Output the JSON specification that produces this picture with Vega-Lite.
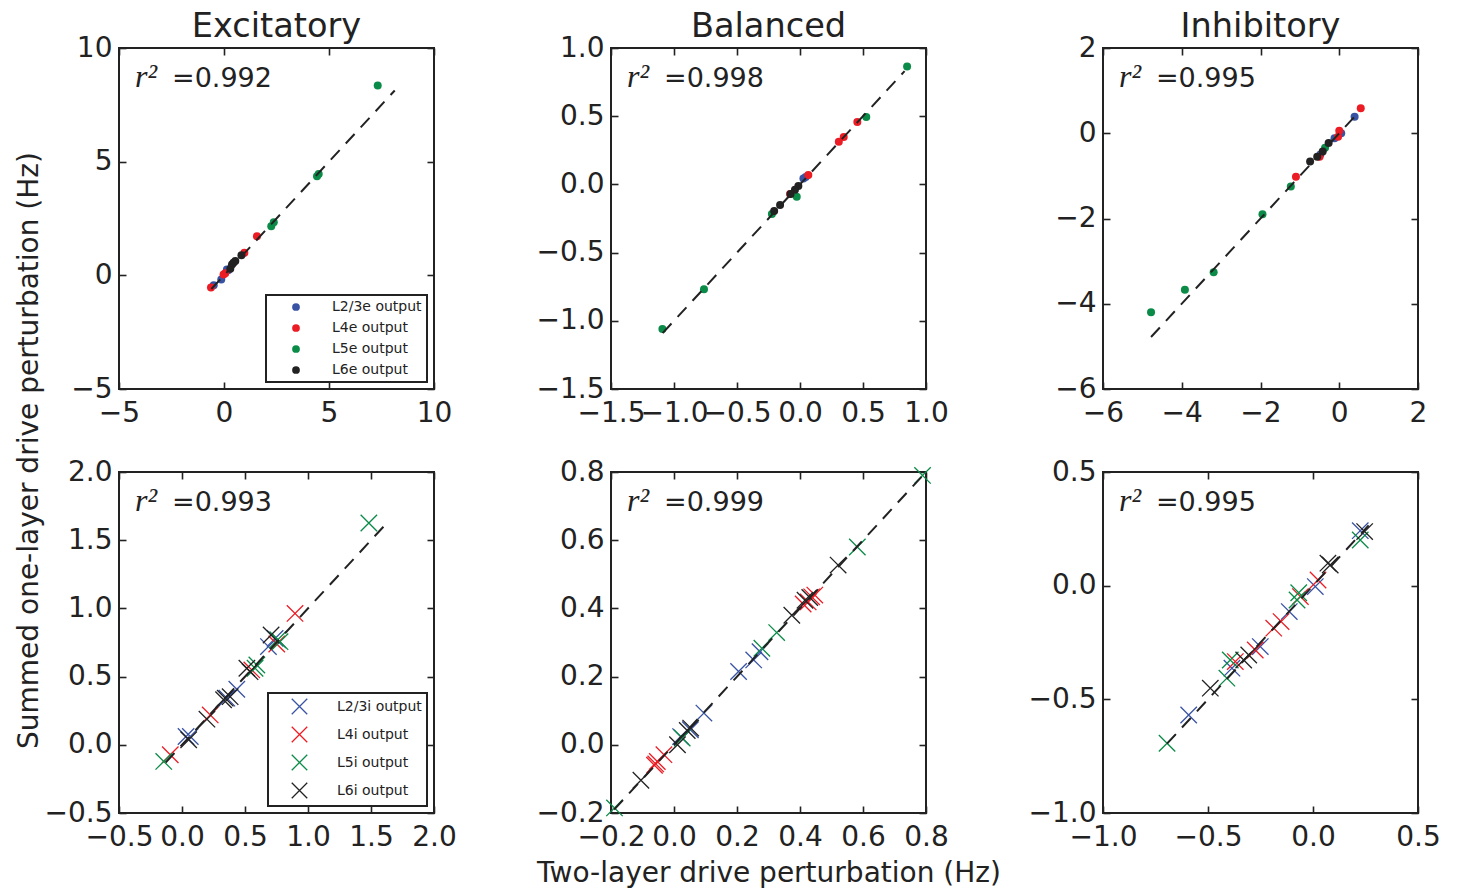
{
  "$schema": "https://vega.github.io/schema/vega-lite/v6.json",
  "background": "white",
  "padding": {"left": 13, "top": 9, "right": 5, "bottom": 2},
  "config": {
    "font": "DejaVu Sans",
    "view": {"stroke": "#222", "strokeWidth": 2},
    "axis": {"grid": false, "domain": false, "tickSize": -7, "tickWidth": 1.6, "tickColor": "#222", "labelFontSize": 28, "labelColor": "#222", "labelPadding": 14, "labelFlush": false, "labelOverlap": false, "titleFontSize": 28, "titleFontWeight": "normal", "titleColor": "#222"},
    "axisX": {"labelPadding": 17},
    "title": {"fontSize": 33.6, "fontWeight": "normal", "color": "#222", "frame": "group", "offset": -10},
    "legend": {"title": null, "orient": "bottom-right", "offset": 7, "strokeColor": "#222", "strokeWidth": 2, "fillColor": "white", "padding": 5, "labelFontSize": 14, "labelColor": "#222", "symbolOffset": 18, "labelOffset": 29, "rowPadding": 7}
  },
  "datasets": {
    "pts": [
      {"panel": "E1", "pop": "L2/3e output", "x": 0.14, "y": 0.26},
      {"panel": "E1", "pop": "L2/3e output", "x": 0.2, "y": 0.22},
      {"panel": "E1", "pop": "L2/3e output", "x": -0.13, "y": -0.18},
      {"panel": "E1", "pop": "L2/3e output", "x": -0.49, "y": -0.44},
      {"panel": "E1", "pop": "L4e output", "x": 1.57, "y": 1.72},
      {"panel": "E1", "pop": "L4e output", "x": 0.97, "y": 0.99},
      {"panel": "E1", "pop": "L4e output", "x": 0.06, "y": 0.09},
      {"panel": "E1", "pop": "L4e output", "x": -0.02, "y": 0.04},
      {"panel": "E1", "pop": "L4e output", "x": -0.62, "y": -0.54},
      {"panel": "E1", "pop": "L5e output", "x": 7.32, "y": 8.35},
      {"panel": "E1", "pop": "L5e output", "x": 4.51, "y": 4.46},
      {"panel": "E1", "pop": "L5e output", "x": 4.43, "y": 4.36},
      {"panel": "E1", "pop": "L5e output", "x": 2.37, "y": 2.34},
      {"panel": "E1", "pop": "L5e output", "x": 2.25, "y": 2.16},
      {"panel": "E1", "pop": "L6e output", "x": 0.83, "y": 0.88},
      {"panel": "E1", "pop": "L6e output", "x": 0.54, "y": 0.63},
      {"panel": "E1", "pop": "L6e output", "x": 0.45, "y": 0.55},
      {"panel": "E1", "pop": "L6e output", "x": 0.38, "y": 0.48},
      {"panel": "E1", "pop": "L6e output", "x": 0.3, "y": 0.29},

      {"panel": "B1", "pop": "L2/3e output", "x": 0.027, "y": 0.044},
      {"panel": "B1", "pop": "L2/3e output", "x": 0.045, "y": 0.055},
      {"panel": "B1", "pop": "L4e output", "x": 0.455, "y": 0.458},
      {"panel": "B1", "pop": "L4e output", "x": 0.347, "y": 0.348},
      {"panel": "B1", "pop": "L4e output", "x": 0.308, "y": 0.312},
      {"panel": "B1", "pop": "L4e output", "x": 0.066, "y": 0.068},
      {"panel": "B1", "pop": "L4e output", "x": -0.079, "y": -0.071},
      {"panel": "B1", "pop": "L5e output", "x": 0.85, "y": 0.865},
      {"panel": "B1", "pop": "L5e output", "x": 0.526, "y": 0.495},
      {"panel": "B1", "pop": "L5e output", "x": -0.026, "y": -0.09},
      {"panel": "B1", "pop": "L5e output", "x": -0.223, "y": -0.217},
      {"panel": "B1", "pop": "L5e output", "x": -0.762, "y": -0.768},
      {"panel": "B1", "pop": "L5e output", "x": -1.092, "y": -1.061},
      {"panel": "B1", "pop": "L6e output", "x": -0.013, "y": -0.012},
      {"panel": "B1", "pop": "L6e output", "x": -0.04, "y": -0.04},
      {"panel": "B1", "pop": "L6e output", "x": -0.075, "y": -0.07},
      {"panel": "B1", "pop": "L6e output", "x": -0.158, "y": -0.151},
      {"panel": "B1", "pop": "L6e output", "x": -0.205, "y": -0.195},

      {"panel": "I1", "pop": "L2/3e output", "x": 0.39, "y": 0.39},
      {"panel": "I1", "pop": "L2/3e output", "x": 0.05, "y": 0.0},
      {"panel": "I1", "pop": "L2/3e output", "x": -0.12, "y": -0.12},
      {"panel": "I1", "pop": "L2/3e output", "x": -0.48, "y": -0.5},
      {"panel": "I1", "pop": "L4e output", "x": 0.546, "y": 0.585},
      {"panel": "I1", "pop": "L4e output", "x": 0.0, "y": 0.06},
      {"panel": "I1", "pop": "L4e output", "x": -0.03, "y": -0.08},
      {"panel": "I1", "pop": "L4e output", "x": -0.5, "y": -0.55},
      {"panel": "I1", "pop": "L4e output", "x": -1.1, "y": -1.02},
      {"panel": "I1", "pop": "L5e output", "x": -0.36, "y": -0.34},
      {"panel": "I1", "pop": "L5e output", "x": -1.23, "y": -1.25},
      {"panel": "I1", "pop": "L5e output", "x": -1.95, "y": -1.9},
      {"panel": "I1", "pop": "L5e output", "x": -3.19, "y": -3.26},
      {"panel": "I1", "pop": "L5e output", "x": -3.92, "y": -3.67},
      {"panel": "I1", "pop": "L5e output", "x": -4.78, "y": -4.2},
      {"panel": "I1", "pop": "L6e output", "x": -0.27, "y": -0.23},
      {"panel": "I1", "pop": "L6e output", "x": -0.42, "y": -0.43},
      {"panel": "I1", "pop": "L6e output", "x": -0.56, "y": -0.55},
      {"panel": "I1", "pop": "L6e output", "x": -0.74, "y": -0.66},

      {"panel": "E2", "pop": "L2/3i output", "x": 0.739, "y": 0.78},
      {"panel": "E2", "pop": "L2/3i output", "x": 0.686, "y": 0.72},
      {"panel": "E2", "pop": "L2/3i output", "x": 0.435, "y": 0.407},
      {"panel": "E2", "pop": "L2/3i output", "x": 0.356, "y": 0.342},
      {"panel": "E2", "pop": "L2/3i output", "x": 0.032, "y": 0.061},
      {"panel": "E2", "pop": "L2/3i output", "x": 0.066, "y": 0.061},
      {"panel": "E2", "pop": "L4i output", "x": 0.897, "y": 0.963},
      {"panel": "E2", "pop": "L4i output", "x": 0.752, "y": 0.739},
      {"panel": "E2", "pop": "L4i output", "x": 0.554, "y": 0.549},
      {"panel": "E2", "pop": "L4i output", "x": 0.224, "y": 0.219},
      {"panel": "E2", "pop": "L4i output", "x": -0.093, "y": -0.073},
      {"panel": "E2", "pop": "L5i output", "x": 1.483, "y": 1.626},
      {"panel": "E2", "pop": "L5i output", "x": 0.778, "y": 0.756},
      {"panel": "E2", "pop": "L5i output", "x": 0.76, "y": 0.77},
      {"panel": "E2", "pop": "L5i output", "x": 0.594, "y": 0.585},
      {"panel": "E2", "pop": "L5i output", "x": 0.58, "y": 0.561},
      {"panel": "E2", "pop": "L5i output", "x": -0.145, "y": -0.122},
      {"panel": "E2", "pop": "L6i output", "x": 0.707, "y": 0.805},
      {"panel": "E2", "pop": "L6i output", "x": 0.515, "y": 0.561},
      {"panel": "E2", "pop": "L6i output", "x": 0.54, "y": 0.536},
      {"panel": "E2", "pop": "L6i output", "x": 0.382, "y": 0.353},
      {"panel": "E2", "pop": "L6i output", "x": 0.343, "y": 0.342},
      {"panel": "E2", "pop": "L6i output", "x": 0.33, "y": 0.33},
      {"panel": "E2", "pop": "L6i output", "x": 0.198, "y": 0.188},
      {"panel": "E2", "pop": "L6i output", "x": 0.053, "y": 0.037},

      {"panel": "B2", "pop": "L2/3i output", "x": 0.021, "y": 0.024},
      {"panel": "B2", "pop": "L2/3i output", "x": 0.052, "y": 0.044},
      {"panel": "B2", "pop": "L2/3i output", "x": 0.095, "y": 0.093},
      {"panel": "B2", "pop": "L2/3i output", "x": 0.205, "y": 0.215},
      {"panel": "B2", "pop": "L2/3i output", "x": 0.253, "y": 0.249},
      {"panel": "B2", "pop": "L2/3i output", "x": 0.273, "y": 0.273},
      {"panel": "B2", "pop": "L4i output", "x": -0.062, "y": -0.06},
      {"panel": "B2", "pop": "L4i output", "x": -0.058, "y": -0.056},
      {"panel": "B2", "pop": "L4i output", "x": -0.053, "y": -0.049},
      {"panel": "B2", "pop": "L4i output", "x": -0.032, "y": -0.029},
      {"panel": "B2", "pop": "L4i output", "x": 0.41, "y": 0.413},
      {"panel": "B2", "pop": "L4i output", "x": 0.426, "y": 0.419},
      {"panel": "B2", "pop": "L4i output", "x": 0.437, "y": 0.434},
      {"panel": "B2", "pop": "L4i output", "x": 0.447, "y": 0.439},
      {"panel": "B2", "pop": "L5i output", "x": -0.189, "y": -0.185},
      {"panel": "B2", "pop": "L5i output", "x": 0.026, "y": 0.02},
      {"panel": "B2", "pop": "L5i output", "x": 0.279, "y": 0.283},
      {"panel": "B2", "pop": "L5i output", "x": 0.326, "y": 0.329},
      {"panel": "B2", "pop": "L5i output", "x": 0.582, "y": 0.58},
      {"panel": "B2", "pop": "L5i output", "x": 0.789, "y": 0.79},
      {"panel": "B2", "pop": "L6i output", "x": -0.105, "y": -0.104},
      {"panel": "B2", "pop": "L6i output", "x": 0.011, "y": 0.0},
      {"panel": "B2", "pop": "L6i output", "x": 0.042, "y": 0.042},
      {"panel": "B2", "pop": "L6i output", "x": 0.053, "y": 0.049},
      {"panel": "B2", "pop": "L6i output", "x": 0.374, "y": 0.38},
      {"panel": "B2", "pop": "L6i output", "x": 0.416, "y": 0.424},
      {"panel": "B2", "pop": "L6i output", "x": 0.431, "y": 0.432},
      {"panel": "B2", "pop": "L6i output", "x": 0.521, "y": 0.527},

      {"panel": "I2", "pop": "L2/3i output", "x": 0.225, "y": 0.242},
      {"panel": "I2", "pop": "L2/3i output", "x": 0.011, "y": -0.004},
      {"panel": "I2", "pop": "L2/3i output", "x": -0.113, "y": -0.114},
      {"panel": "I2", "pop": "L2/3i output", "x": -0.251, "y": -0.268},
      {"panel": "I2", "pop": "L2/3i output", "x": -0.386, "y": -0.363},
      {"panel": "I2", "pop": "L2/3i output", "x": -0.592, "y": -0.569},
      {"panel": "I2", "pop": "L4i output", "x": 0.024, "y": 0.025},
      {"panel": "I2", "pop": "L4i output", "x": -0.06, "y": -0.048},
      {"panel": "I2", "pop": "L4i output", "x": -0.152, "y": -0.158},
      {"panel": "I2", "pop": "L4i output", "x": -0.187, "y": -0.187},
      {"panel": "I2", "pop": "L4i output", "x": -0.275, "y": -0.283},
      {"panel": "I2", "pop": "L4i output", "x": -0.37, "y": -0.334},
      {"panel": "I2", "pop": "L5i output", "x": 0.225, "y": 0.201},
      {"panel": "I2", "pop": "L5i output", "x": -0.068, "y": -0.031},
      {"panel": "I2", "pop": "L5i output", "x": -0.076, "y": -0.063},
      {"panel": "I2", "pop": "L5i output", "x": -0.394, "y": -0.327},
      {"panel": "I2", "pop": "L5i output", "x": -0.41, "y": -0.407},
      {"panel": "I2", "pop": "L5i output", "x": -0.695, "y": -0.693},
      {"panel": "I2", "pop": "L6i output", "x": 0.246, "y": 0.238},
      {"panel": "I2", "pop": "L6i output", "x": 0.071, "y": 0.099},
      {"panel": "I2", "pop": "L6i output", "x": 0.082, "y": 0.091},
      {"panel": "I2", "pop": "L6i output", "x": -0.306, "y": -0.305},
      {"panel": "I2", "pop": "L6i output", "x": -0.33, "y": -0.327},
      {"panel": "I2", "pop": "L6i output", "x": -0.489, "y": -0.451}
    ],
    "lines": [
      {"panel": "E1", "x": -0.6, "y": -0.6}, {"panel": "E1", "x": 8.13, "y": 8.13},
      {"panel": "B1", "x": -1.09, "y": -1.09}, {"panel": "B1", "x": 0.83, "y": 0.83},
      {"panel": "I1", "x": -4.78, "y": -4.78}, {"panel": "I1", "x": 0.4, "y": 0.4},
      {"panel": "E2", "x": -0.13, "y": -0.13}, {"panel": "E2", "x": 1.62, "y": 1.62},
      {"panel": "B2", "x": -0.19, "y": -0.19}, {"panel": "B2", "x": 0.79, "y": 0.79},
      {"panel": "I2", "x": -0.695, "y": -0.695}, {"panel": "I2", "x": 0.265, "y": 0.265}
    ],
    "ann": [
      {"panel": "E1", "label": "=0.992"},
      {"panel": "B1", "label": "=0.998"},
      {"panel": "I1", "label": "=0.995"},
      {"panel": "E2", "label": "=0.993"},
      {"panel": "B2", "label": "=0.999"},
      {"panel": "I2", "label": "=0.995"}
    ]
  },
  "columns": 3,
  "spacing": {"row": 83, "column": 177},
  "bounds": "flush",
  "resolve": {"scale": {"color": "independent", "x": "independent", "y": "independent"}, "legend": {"color": "independent"}},
  "concat": [
    {
      "width": 315, "height": 341,
      "title": "Excitatory",
      "resolve": {"axis": {"x": "independent", "y": "independent"}},
      "layer": [
        {"data": {"name": "pts"}, "transform": [{"filter": "datum.panel === 'E1'"}],
         "mark": {"type": "point", "filled": true, "size": 64, "opacity": 1},
         "encoding": {
           "x": {"field": "x", "type": "quantitative", "scale": {"domain": [-5, 10], "nice": false, "zero": false}, "axis": {"values": [-5, 0, 5, 10], "format": "d", "title": null}},
           "y": {"field": "y", "type": "quantitative", "scale": {"domain": [-5, 10], "nice": false, "zero": false}, "axis": {"values": [-5, 0, 5, 10], "format": "d", "title": null}},
           "color": {"field": "pop", "type": "nominal", "scale": {"domain": ["L2/3e output", "L4e output", "L5e output", "L6e output"], "range": ["#3953a4", "#ec1c24", "#0a8b47", "#222222"]}, "legend": {"symbolType": "circle", "symbolSize": 60}}
         }},
        {"data": {"name": "lines"}, "transform": [{"filter": "datum.panel === 'E1'"}],
         "mark": {"type": "line", "strokeDash": [13, 9], "strokeWidth": 2, "color": "#222"},
         "encoding": {
           "x": {"field": "x", "type": "quantitative", "axis": {"orient": "top", "values": [-5, 0, 5, 10], "labels": false, "title": null}},
           "y": {"field": "y", "type": "quantitative", "axis": {"orient": "right", "values": [-5, 0, 5, 10], "labels": false, "title": null}}
         }},
        {"data": {"name": "ann"}, "transform": [{"filter": "datum.panel === 'E1'"}],
         "mark": {"type": "text", "font": "Liberation Serif", "fontStyle": "italic", "fontSize": 32, "align": "left", "baseline": "alphabetic", "color": "#222"},
         "encoding": {"x": {"datum": -4.238, "type": "quantitative", "axis": null}, "y": {"datum": 8.284, "type": "quantitative", "axis": null}, "text": {"value": "r²"}}},
        {"data": {"name": "ann"}, "transform": [{"filter": "datum.panel === 'E1'"}],
         "mark": {"type": "text", "fontSize": 27, "align": "left", "baseline": "alphabetic", "dx": 37, "color": "#222"},
         "encoding": {"x": {"datum": -4.238, "type": "quantitative", "axis": null}, "y": {"datum": 8.284, "type": "quantitative", "axis": null}, "text": {"field": "label"}}}
      ]
    },
    {
      "width": 315, "height": 341,
      "title": "Balanced",
      "resolve": {"axis": {"x": "independent", "y": "independent"}},
      "layer": [
        {"data": {"name": "pts"}, "transform": [{"filter": "datum.panel === 'B1'"}],
         "mark": {"type": "point", "filled": true, "size": 64, "opacity": 1},
         "encoding": {
           "x": {"field": "x", "type": "quantitative", "scale": {"domain": [-1.5, 1.0], "nice": false, "zero": false}, "axis": {"values": [-1.5, -1.0, -0.5, 0, 0.5, 1.0], "format": ".1f", "title": null}},
           "y": {"field": "y", "type": "quantitative", "scale": {"domain": [-1.5, 1.0], "nice": false, "zero": false}, "axis": {"values": [-1.5, -1.0, -0.5, 0, 0.5, 1.0], "format": ".1f", "title": null}},
           "color": {"field": "pop", "type": "nominal", "scale": {"domain": ["L2/3e output", "L4e output", "L5e output", "L6e output"], "range": ["#3953a4", "#ec1c24", "#0a8b47", "#222222"]}, "legend": null}
         }},
        {"data": {"name": "lines"}, "transform": [{"filter": "datum.panel === 'B1'"}],
         "mark": {"type": "line", "strokeDash": [13, 9], "strokeWidth": 2, "color": "#222"},
         "encoding": {
           "x": {"field": "x", "type": "quantitative", "axis": {"orient": "top", "values": [-1.5, -1.0, -0.5, 0, 0.5, 1.0], "labels": false, "title": null}},
           "y": {"field": "y", "type": "quantitative", "axis": {"orient": "right", "values": [-1.5, -1.0, -0.5, 0, 0.5, 1.0], "labels": false, "title": null}}
         }},
        {"data": {"name": "ann"}, "transform": [{"filter": "datum.panel === 'B1'"}],
         "mark": {"type": "text", "font": "Liberation Serif", "fontStyle": "italic", "fontSize": 32, "align": "left", "baseline": "alphabetic", "color": "#222"},
         "encoding": {"x": {"datum": -1.373, "type": "quantitative", "axis": null}, "y": {"datum": 0.714, "type": "quantitative", "axis": null}, "text": {"value": "r²"}}},
        {"data": {"name": "ann"}, "transform": [{"filter": "datum.panel === 'B1'"}],
         "mark": {"type": "text", "fontSize": 27, "align": "left", "baseline": "alphabetic", "dx": 37, "color": "#222"},
         "encoding": {"x": {"datum": -1.373, "type": "quantitative", "axis": null}, "y": {"datum": 0.714, "type": "quantitative", "axis": null}, "text": {"field": "label"}}}
      ]
    },
    {
      "width": 315, "height": 341,
      "title": "Inhibitory",
      "resolve": {"axis": {"x": "independent", "y": "independent"}},
      "layer": [
        {"data": {"name": "pts"}, "transform": [{"filter": "datum.panel === 'I1'"}],
         "mark": {"type": "point", "filled": true, "size": 64, "opacity": 1},
         "encoding": {
           "x": {"field": "x", "type": "quantitative", "scale": {"domain": [-6, 2], "nice": false, "zero": false}, "axis": {"values": [-6, -4, -2, 0, 2], "format": "d", "title": null}},
           "y": {"field": "y", "type": "quantitative", "scale": {"domain": [-6, 2], "nice": false, "zero": false}, "axis": {"values": [-6, -4, -2, 0, 2], "format": "d", "title": null}},
           "color": {"field": "pop", "type": "nominal", "scale": {"domain": ["L2/3e output", "L4e output", "L5e output", "L6e output"], "range": ["#3953a4", "#ec1c24", "#0a8b47", "#222222"]}, "legend": null}
         }},
        {"data": {"name": "lines"}, "transform": [{"filter": "datum.panel === 'I1'"}],
         "mark": {"type": "line", "strokeDash": [13, 9], "strokeWidth": 2, "color": "#222"},
         "encoding": {
           "x": {"field": "x", "type": "quantitative", "axis": {"orient": "top", "values": [-6, -4, -2, 0, 2], "labels": false, "title": null}},
           "y": {"field": "y", "type": "quantitative", "axis": {"orient": "right", "values": [-6, -4, -2, 0, 2], "labels": false, "title": null}}
         }},
        {"data": {"name": "ann"}, "transform": [{"filter": "datum.panel === 'I1'"}],
         "mark": {"type": "text", "font": "Liberation Serif", "fontStyle": "italic", "fontSize": 32, "align": "left", "baseline": "alphabetic", "color": "#222"},
         "encoding": {"x": {"datum": -5.594, "type": "quantitative", "axis": null}, "y": {"datum": 1.085, "type": "quantitative", "axis": null}, "text": {"value": "r²"}}},
        {"data": {"name": "ann"}, "transform": [{"filter": "datum.panel === 'I1'"}],
         "mark": {"type": "text", "fontSize": 27, "align": "left", "baseline": "alphabetic", "dx": 37, "color": "#222"},
         "encoding": {"x": {"datum": -5.594, "type": "quantitative", "axis": null}, "y": {"datum": 1.085, "type": "quantitative", "axis": null}, "text": {"field": "label"}}}
      ]
    },
    {
      "width": 315, "height": 341,
      "resolve": {"axis": {"x": "independent", "y": "independent"}},
      "layer": [
        {"data": {"name": "pts"}, "transform": [{"filter": "datum.panel === 'E2'"}],
         "mark": {"type": "point", "filled": false, "shape": "M-1,-1L1,1M-1,1L1,-1", "size": 270, "strokeWidth": 1.3, "opacity": 1},
         "encoding": {
           "x": {"field": "x", "type": "quantitative", "scale": {"domain": [-0.5, 2.0], "nice": false, "zero": false}, "axis": {"values": [-0.5, 0, 0.5, 1.0, 1.5, 2.0], "format": ".1f", "title": null}},
           "y": {"field": "y", "type": "quantitative", "scale": {"domain": [-0.5, 2.0], "nice": false, "zero": false}, "axis": {"values": [-0.5, 0, 0.5, 1.0, 1.5, 2.0], "format": ".1f", "title": "Summed one-layer drive perturbation (Hz)", "titleX": -90, "titleY": -22, "titleAngle": -90, "titleAlign": "center", "titleBaseline": "middle"}},
           "color": {"field": "pop", "type": "nominal", "scale": {"domain": ["L2/3i output", "L4i output", "L5i output", "L6i output"], "range": ["#3953a4", "#ec1c24", "#0a8b47", "#222222"]}, "legend": {"symbolType": "M-1,-1L1,1M-1,1L1,-1", "symbolSize": 240, "symbolStrokeWidth": 1.3}}
         }},
        {"data": {"name": "lines"}, "transform": [{"filter": "datum.panel === 'E2'"}],
         "mark": {"type": "line", "strokeDash": [13, 9], "strokeWidth": 2, "color": "#222"},
         "encoding": {
           "x": {"field": "x", "type": "quantitative", "axis": {"orient": "top", "values": [-0.5, 0, 0.5, 1.0, 1.5, 2.0], "labels": false, "title": null}},
           "y": {"field": "y", "type": "quantitative", "axis": {"orient": "right", "values": [-0.5, 0, 0.5, 1.0, 1.5, 2.0], "labels": false, "title": null}}
         }},
        {"data": {"name": "ann"}, "transform": [{"filter": "datum.panel === 'E2'"}],
         "mark": {"type": "text", "font": "Liberation Serif", "fontStyle": "italic", "fontSize": 32, "align": "left", "baseline": "alphabetic", "color": "#222"},
         "encoding": {"x": {"datum": -0.373, "type": "quantitative", "axis": null}, "y": {"datum": 1.714, "type": "quantitative", "axis": null}, "text": {"value": "r²"}}},
        {"data": {"name": "ann"}, "transform": [{"filter": "datum.panel === 'E2'"}],
         "mark": {"type": "text", "fontSize": 27, "align": "left", "baseline": "alphabetic", "dx": 37, "color": "#222"},
         "encoding": {"x": {"datum": -0.373, "type": "quantitative", "axis": null}, "y": {"datum": 1.714, "type": "quantitative", "axis": null}, "text": {"field": "label"}}}
      ]
    },
    {
      "width": 315, "height": 341,
      "resolve": {"axis": {"x": "independent", "y": "independent"}},
      "layer": [
        {"data": {"name": "pts"}, "transform": [{"filter": "datum.panel === 'B2'"}],
         "mark": {"type": "point", "filled": false, "shape": "M-1,-1L1,1M-1,1L1,-1", "size": 270, "strokeWidth": 1.3, "opacity": 1},
         "encoding": {
           "x": {"field": "x", "type": "quantitative", "scale": {"domain": [-0.2, 0.8], "nice": false, "zero": false}, "axis": {"values": [-0.2, 0, 0.2, 0.4, 0.6, 0.8], "format": ".1f", "title": "Two-layer drive perturbation (Hz)", "titlePadding": 8}},
           "y": {"field": "y", "type": "quantitative", "scale": {"domain": [-0.2, 0.8], "nice": false, "zero": false}, "axis": {"values": [-0.2, 0, 0.2, 0.4, 0.6, 0.8], "format": ".1f", "title": null}},
           "color": {"field": "pop", "type": "nominal", "scale": {"domain": ["L2/3i output", "L4i output", "L5i output", "L6i output"], "range": ["#3953a4", "#ec1c24", "#0a8b47", "#222222"]}, "legend": null}
         }},
        {"data": {"name": "lines"}, "transform": [{"filter": "datum.panel === 'B2'"}],
         "mark": {"type": "line", "strokeDash": [13, 9], "strokeWidth": 2, "color": "#222"},
         "encoding": {
           "x": {"field": "x", "type": "quantitative", "axis": {"orient": "top", "values": [-0.2, 0, 0.2, 0.4, 0.6, 0.8], "labels": false, "title": null}},
           "y": {"field": "y", "type": "quantitative", "axis": {"orient": "right", "values": [-0.2, 0, 0.2, 0.4, 0.6, 0.8], "labels": false, "title": null}}
         }},
        {"data": {"name": "ann"}, "transform": [{"filter": "datum.panel === 'B2'"}],
         "mark": {"type": "text", "font": "Liberation Serif", "fontStyle": "italic", "fontSize": 32, "align": "left", "baseline": "alphabetic", "color": "#222"},
         "encoding": {"x": {"datum": -0.149, "type": "quantitative", "axis": null}, "y": {"datum": 0.686, "type": "quantitative", "axis": null}, "text": {"value": "r²"}}},
        {"data": {"name": "ann"}, "transform": [{"filter": "datum.panel === 'B2'"}],
         "mark": {"type": "text", "fontSize": 27, "align": "left", "baseline": "alphabetic", "dx": 37, "color": "#222"},
         "encoding": {"x": {"datum": -0.149, "type": "quantitative", "axis": null}, "y": {"datum": 0.686, "type": "quantitative", "axis": null}, "text": {"field": "label"}}}
      ]
    },
    {
      "width": 315, "height": 341,
      "resolve": {"axis": {"x": "independent", "y": "independent"}},
      "layer": [
        {"data": {"name": "pts"}, "transform": [{"filter": "datum.panel === 'I2'"}],
         "mark": {"type": "point", "filled": false, "shape": "M-1,-1L1,1M-1,1L1,-1", "size": 270, "strokeWidth": 1.3, "opacity": 1},
         "encoding": {
           "x": {"field": "x", "type": "quantitative", "scale": {"domain": [-1.0, 0.5], "nice": false, "zero": false}, "axis": {"values": [-1.0, -0.5, 0, 0.5], "format": ".1f", "title": null}},
           "y": {"field": "y", "type": "quantitative", "scale": {"domain": [-1.0, 0.5], "nice": false, "zero": false}, "axis": {"values": [-1.0, -0.5, 0, 0.5], "format": ".1f", "title": null}},
           "color": {"field": "pop", "type": "nominal", "scale": {"domain": ["L2/3i output", "L4i output", "L5i output", "L6i output"], "range": ["#3953a4", "#ec1c24", "#0a8b47", "#222222"]}, "legend": null}
         }},
        {"data": {"name": "lines"}, "transform": [{"filter": "datum.panel === 'I2'"}],
         "mark": {"type": "line", "strokeDash": [13, 9], "strokeWidth": 2, "color": "#222"},
         "encoding": {
           "x": {"field": "x", "type": "quantitative", "axis": {"orient": "top", "values": [-1.0, -0.5, 0, 0.5], "labels": false, "title": null}},
           "y": {"field": "y", "type": "quantitative", "axis": {"orient": "right", "values": [-1.0, -0.5, 0, 0.5], "labels": false, "title": null}}
         }},
        {"data": {"name": "ann"}, "transform": [{"filter": "datum.panel === 'I2'"}],
         "mark": {"type": "text", "font": "Liberation Serif", "fontStyle": "italic", "fontSize": 32, "align": "left", "baseline": "alphabetic", "color": "#222"},
         "encoding": {"x": {"datum": -0.924, "type": "quantitative", "axis": null}, "y": {"datum": 0.328, "type": "quantitative", "axis": null}, "text": {"value": "r²"}}},
        {"data": {"name": "ann"}, "transform": [{"filter": "datum.panel === 'I2'"}],
         "mark": {"type": "text", "fontSize": 27, "align": "left", "baseline": "alphabetic", "dx": 37, "color": "#222"},
         "encoding": {"x": {"datum": -0.924, "type": "quantitative", "axis": null}, "y": {"datum": 0.328, "type": "quantitative", "axis": null}, "text": {"field": "label"}}}
      ]
    }
  ]
}
